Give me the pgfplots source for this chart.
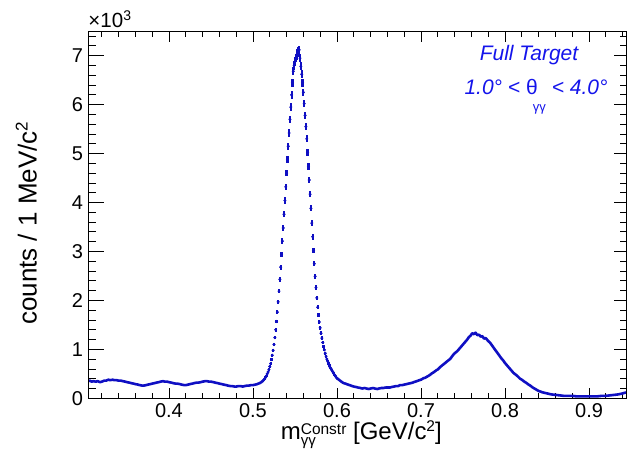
\documentclass[border=0pt]{standalone}
\usepackage{pgfplots}
\pgfplotsset{compat=1.18}
\usepackage{pgfplotstable}
\usepackage{fontspec}
\setmainfont{Liberation Sans}
\definecolor{datblue}{RGB}{15,15,195}
\definecolor{txtblue}{RGB}{20,20,235}

\pgfplotstableread{
x y
0.304 0.35
0.306 0.36
0.308 0.34
0.310 0.35
0.313 0.34
0.315 0.35
0.318 0.33
0.320 0.34
0.323 0.36
0.325 0.36
0.328 0.38
0.330 0.37
0.333 0.38
0.335 0.37
0.338 0.37
0.340 0.36
0.343 0.36
0.345 0.35
0.348 0.34
0.350 0.33
0.353 0.32
0.355 0.31
0.358 0.30
0.360 0.29
0.363 0.28
0.365 0.27
0.368 0.26
0.370 0.26
0.373 0.27
0.375 0.28
0.378 0.29
0.380 0.30
0.383 0.31
0.385 0.32
0.388 0.33
0.390 0.34
0.393 0.35
0.395 0.34
0.398 0.34
0.400 0.33
0.403 0.32
0.405 0.31
0.408 0.30
0.410 0.30
0.413 0.29
0.415 0.28
0.418 0.27
0.420 0.27
0.423 0.28
0.425 0.29
0.428 0.30
0.430 0.31
0.433 0.32
0.435 0.32
0.438 0.33
0.440 0.34
0.443 0.35
0.445 0.35
0.448 0.34
0.450 0.34
0.453 0.33
0.455 0.32
0.458 0.31
0.460 0.30
0.463 0.29
0.465 0.28
0.468 0.27
0.470 0.26
0.473 0.25
0.475 0.25
0.478 0.24
0.480 0.24
0.483 0.25
0.485 0.25
0.488 0.24
0.490 0.25
0.493 0.26
0.495 0.26
0.498 0.27
0.500 0.27
0.503 0.28
0.505 0.29
0.508 0.31
0.510 0.33
0.512 0.36
}\leftflat

\pgfplotstableread{
x y
0.512 0.36
0.513 0.38
0.514 0.40
0.515 0.43
0.516 0.46
0.517 0.50
0.518 0.54
0.519 0.59
0.520 0.65
0.521 0.71
0.522 0.79
0.523 0.88
0.524 0.98
0.525 1.10
0.526 1.24
0.527 1.40
0.528 1.57
0.529 1.76
0.530 1.97
0.531 2.19
0.532 2.43
0.533 2.68
0.534 2.94
0.535 3.21
0.536 3.48
0.537 3.76
0.538 4.04
0.539 4.32
0.540 4.60
0.541 4.88
0.542 5.15
0.543 5.42
0.544 5.70
0.545 5.95
0.546 6.20
0.547 6.45
0.548 6.68
0.549 6.80
0.550 6.88
0.551 6.95
0.552 7.00
0.553 7.05
0.554 7.10
0.555 7.12
0.556 6.95
0.557 6.78
0.558 6.62
0.559 6.45
0.560 6.25
0.561 6.02
0.562 5.78
0.563 5.55
0.564 5.30
0.565 5.02
0.566 4.74
0.567 4.46
0.568 4.17
0.569 3.88
0.570 3.58
0.571 3.30
0.572 3.02
0.573 2.75
0.574 2.49
0.575 2.26
0.576 2.05
0.577 1.86
0.578 1.70
0.579 1.56
0.580 1.44
0.581 1.33
0.582 1.23
0.583 1.14
0.584 1.06
0.585 0.99
0.586 0.92
0.587 0.86
0.588 0.80
0.589 0.75
0.590 0.71
0.591 0.67
0.592 0.63
0.593 0.60
0.594 0.57
0.595 0.54
0.596 0.51
0.597 0.48
0.598 0.46
0.599 0.43
0.600 0.41
}\peak

\pgfplotstableread{
x y
0.600 0.41
0.603 0.37
0.606 0.33
0.608 0.31
0.610 0.30
0.613 0.28
0.615 0.27
0.618 0.25
0.620 0.24
0.623 0.23
0.625 0.22
0.628 0.21
0.630 0.20
0.633 0.21
0.635 0.20
0.638 0.19
0.640 0.20
0.643 0.21
0.645 0.20
0.648 0.19
0.650 0.20
0.653 0.21
0.655 0.21
0.658 0.22
0.660 0.22
0.663 0.22
0.665 0.23
0.668 0.24
0.670 0.25
0.673 0.25
0.675 0.27
0.678 0.27
0.680 0.28
0.683 0.29
0.685 0.30
0.688 0.31
0.690 0.32
0.693 0.34
0.695 0.35
0.698 0.37
0.700 0.38
0.703 0.41
0.705 0.42
0.708 0.45
0.710 0.47
0.713 0.51
0.715 0.53
0.718 0.57
0.720 0.59
0.723 0.64
0.725 0.67
0.728 0.71
0.730 0.74
0.733 0.78
0.735 0.81
0.738 0.88
0.740 0.92
0.743 0.96
0.745 1.00
0.748 1.06
0.750 1.10
0.752 1.14
0.755 1.20
0.757 1.25
0.759 1.28
0.761 1.33
0.763 1.31
0.765 1.34
0.767 1.29
0.769 1.30
0.771 1.26
0.773 1.27
0.775 1.22
0.777 1.23
0.780 1.17
0.782 1.14
0.785 1.07
0.787 1.02
0.790 0.95
0.793 0.88
0.795 0.83
0.798 0.77
0.800 0.72
0.803 0.66
0.805 0.62
0.808 0.56
0.810 0.52
0.813 0.48
0.815 0.45
0.818 0.40
0.820 0.38
0.823 0.34
0.825 0.32
0.828 0.28
0.830 0.26
0.833 0.22
0.835 0.20
0.838 0.17
0.840 0.15
0.845 0.12
0.850 0.10
0.855 0.08
0.860 0.07
0.865 0.06
0.870 0.05
0.875 0.05
0.880 0.05
0.885 0.04
0.890 0.04
0.895 0.04
0.900 0.04
0.905 0.04
0.910 0.04
0.915 0.05
0.920 0.05
0.925 0.06
0.930 0.07
0.935 0.08
0.940 0.10
0.944 0.12
}\rightflat

\pgfplotsset{common/.style={
  at={(0pt,0pt)}, anchor=south west, scale only axis,
  width=537.7pt, height=366.6pt,
  xmin=0.304, xmax=0.944, ymin=0, ymax=7.49,
  axis line style={line width=0.8pt, black},
  tick style={line width=0.8pt, black},
  tick align=inside,
  /pgf/number format/assume math mode=true,
  ticklabel style={font=\fontsize{20}{24}\selectfont},
}}

\begin{document}
\begin{tikzpicture}
\useasboundingbox (-88.3pt,-56.7pt) rectangle (538.7pt,398.3pt);

\begin{axis}[common,
  xtick={0.4,0.5,0.6,0.7,0.8,0.9},
  minor xtick={0.32,0.34,0.36,0.38,0.42,0.44,0.46,0.48,0.52,0.54,0.56,0.58,0.62,0.64,0.66,0.68,0.72,0.74,0.76,0.78,0.82,0.84,0.86,0.88,0.92,0.94},
  xtick pos=both, xticklabel pos=lower,
  ytick=\empty,
  major tick length=10pt, minor tick length=5pt,
  xticklabel style={inner sep=0pt, yshift=-5.5pt, /pgf/number format/fixed, /pgf/number format/precision=1},
]
\addplot[datblue, line width=2.6pt, line join=round] table[x=x,y=y] {\leftflat};
\addplot[datblue, line width=2.6pt, line join=round] table[x=x,y=y] {\rightflat};
\addplot[datblue, only marks, mark=*, mark size=1.3pt,
  error bars/.cd, y dir=both, y explicit,
  error bar style={line width=2.2pt, datblue}, error mark=none]
  table[x=x,y=y,y error expr={sqrt(\thisrow{y}*1000)/1000}] {\peak};
\end{axis}

\begin{axis}[common,
  xtick=\empty,
  ytick={0,1,2,3,4,5,6,7},
  minor ytick={0.2,0.4,0.6,0.8,1.2,1.4,1.6,1.8,2.2,2.4,2.6,2.8,3.2,3.4,3.6,3.8,4.2,4.4,4.6,4.8,5.2,5.4,5.6,5.8,6.2,6.4,6.6,6.8,7.2,7.4},
  ytick pos=left,
  major tick length=16pt, minor tick length=8pt,
  yticklabel style={inner sep=0pt, xshift=-5pt},
]
\end{axis}

\begin{axis}[common,
  xtick=\empty,
  ytick={0,1,2,3,4,5,6,7},
  minor ytick={0.2,0.4,0.6,0.8,1.2,1.4,1.6,1.8,2.2,2.4,2.6,2.8,3.2,3.4,3.6,3.8,4.2,4.4,4.6,4.8,5.2,5.4,5.6,5.8,6.2,6.4,6.6,6.8,7.2,7.4},
  ytick pos=right, yticklabels={},
  major tick length=12pt, minor tick length=6pt,
]
\end{axis}

\node[anchor=base west, inner sep=0pt, font=\fontsize{20.5}{24}\selectfont] at (0pt,370.3pt) {×10\raisebox{7pt}{\fontsize{14}{16}\selectfont 3}};
\node[anchor=base, inner sep=0pt, font=\fontsize{24}{28}\selectfont] at (273pt,-41pt) {m\makebox[0pt][l]{\raisebox{-6pt}{\fontsize{15}{17}\selectfont γγ}}\raisebox{5pt}{\fontsize{15.5}{17}\selectfont Constr} [GeV/c\raisebox{7.5pt}{\fontsize{15.5}{17}\selectfont 2}]};
\node[rotate=90, anchor=base, inner sep=0pt, font=\fontsize{26}{30}\selectfont] at (-51.6pt,175pt) {counts / 1 MeV/c\raisebox{9pt}{\fontsize{17}{19}\selectfont 2}};
\node[anchor=base, inner sep=0pt, txtblue, font=\fontsize{21}{24}\selectfont\itshape] at (440.7pt,337.6pt) {Full Target};
\node[anchor=base, inner sep=0pt, txtblue, font=\fontsize{21}{24}\selectfont\itshape] at (447.7pt,303.3pt) {1.0° < {\upshape θ}\hspace{-5pt}\raisebox{-17pt}{\fontsize{13}{15}\selectfont\upshape γγ}\hspace{6pt}< 4.0°};
\end{tikzpicture}
\end{document}
